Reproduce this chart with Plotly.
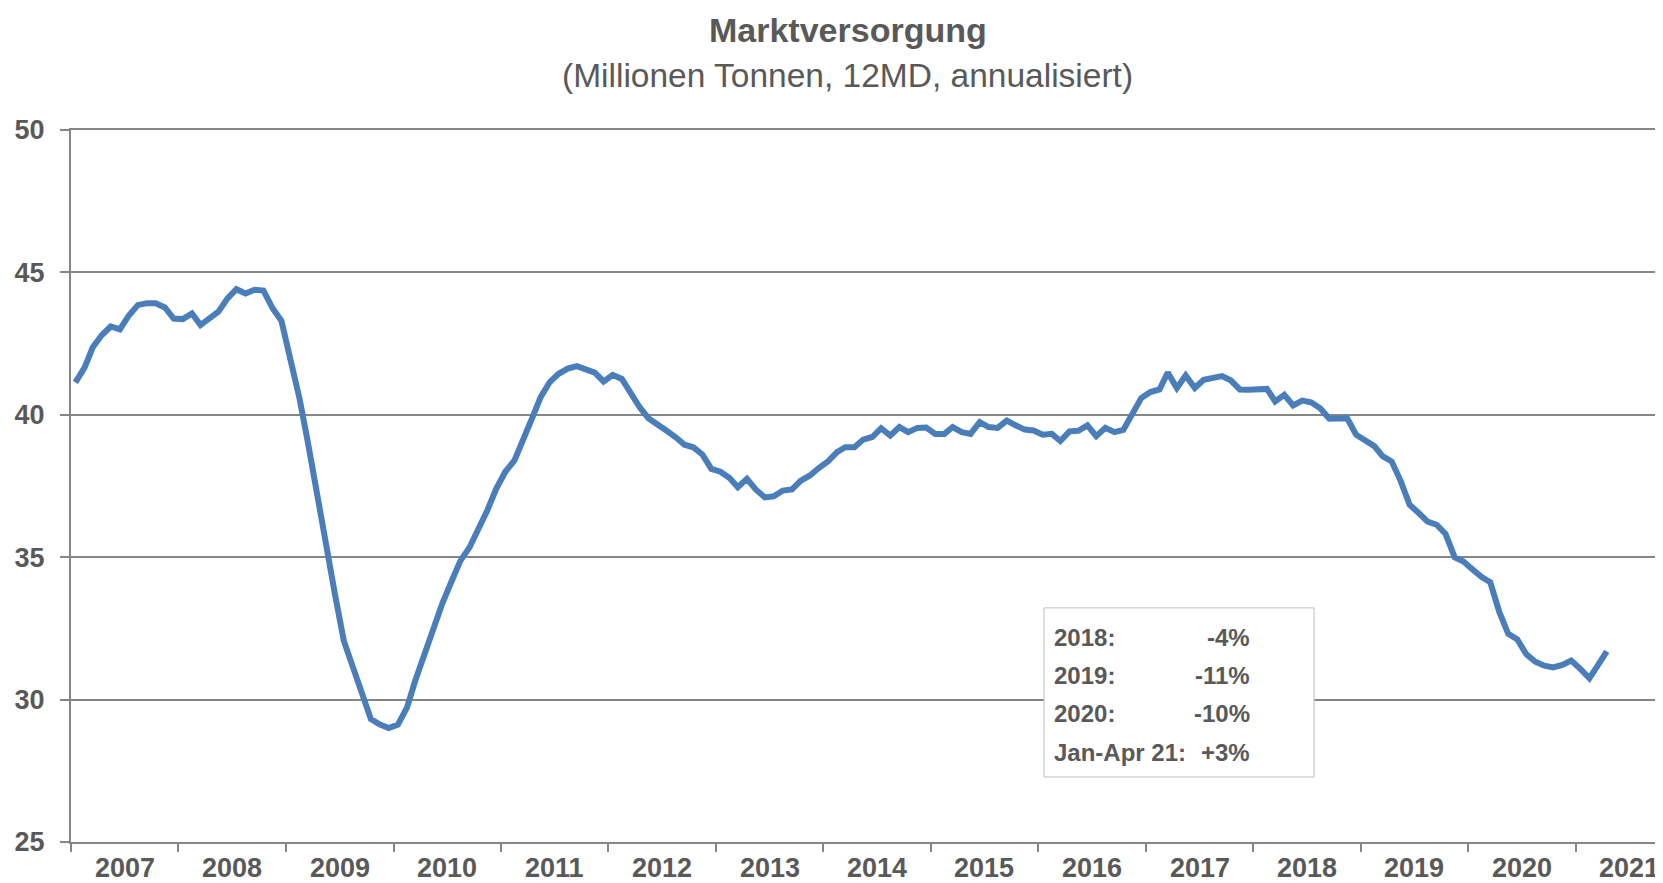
import pandas as pd
import plotly.graph_objects as go

# ---- data -------------------------------------------------------------
start_month = "2007-01-01"
values = [
    # 2007
    41.14, 41.66, 42.37, 42.80, 43.10, 43.00, 43.48, 43.85, 43.92, 43.92, 43.77, 43.38,
    # 2008
    43.36, 43.56, 43.15, 43.38, 43.62, 44.09, 44.41, 44.26, 44.39, 44.36, 43.74, 43.30,
    # 2009
    41.96, 40.55, 39.03, 37.10, 35.50, 33.70, 32.07, 31.14, 30.20, 29.32, 29.12, 29.00,
    # 2010
    29.12, 29.73, 30.67, 31.60, 32.54, 33.38, 34.12, 34.87, 35.34, 35.93, 36.65, 37.40,
    # 2011
    38.00, 38.40, 39.16, 39.86, 40.62, 41.15, 41.44, 41.62, 41.71, 41.62, 41.48, 41.17,
    # 2012
    41.40, 41.26, 40.74, 40.27, 39.88, 39.63, 39.45, 39.22, 38.95, 38.86, 38.60, 38.10,
    # 2013
    38.00, 37.78, 37.46, 37.75, 37.38, 37.10, 37.14, 37.34, 37.38, 37.69, 37.87, 38.13,
    # 2014
    38.36, 38.69, 38.86, 38.86, 39.13, 39.22, 39.53, 39.27, 39.57, 39.39, 39.54, 39.55,
    # 2015
    39.33, 39.33, 39.57, 39.39, 39.33, 39.74, 39.57, 39.54, 39.80, 39.63, 39.48, 39.45,
    # 2016
    39.30, 39.33, 39.08, 39.42, 39.44, 39.63, 39.25, 39.54, 39.39, 39.47, 40.04, 40.59,
    # 2017
    40.80, 40.89, 41.48, 40.94, 41.38, 40.94, 41.23, 41.32, 41.36, 41.21, 40.89, 40.88,
    # 2018
    40.88, 40.91, 40.47, 40.70, 40.33, 40.50, 40.44, 40.23, 39.86, 39.88, 39.88, 39.30,
    # 2019
    39.10, 38.90, 38.55, 38.36, 37.69, 36.84, 36.56, 36.25, 36.14, 35.82, 35.00, 34.85,
    # 2020
    34.57, 34.30, 34.12, 33.07, 32.31, 32.11, 31.60, 31.33, 31.19, 31.13, 31.22, 31.37,
    # 2021 (Jan-Apr)
    31.08, 30.75, 31.19, 31.69,
]
years = list(range(2007, 2022))
year_labels = [str(y) for y in years]
y_ticks = [25, 30, 35, 40, 45, 50]

box_labels = ["2018:", "2019:", "2020:", "Jan-Apr 21:"]
box_values = ["-4%", "-11%", "-10%", "+3%"]

title_text = "Marktversorgung"
subtitle_text = "(Millionen Tonnen, 12MD, annualisiert)"

# ---- derived -----------------------------------------------------------
months = pd.date_range(start=start_month, periods=len(values), freq="MS") + pd.Timedelta(days=15)
year_starts = [f"{y}-01-01" for y in years]
year_mids = [f"{y}-07-02" for y in years]

TEXT = "#595959"
GRID = "#868686"
LINE = "#4A7EBB"
SANS = "Liberation Sans, Arial, sans-serif"

fig = go.Figure()
fig.add_trace(go.Scatter(
    x=months, y=values, mode="lines",
    line=dict(color=LINE, width=6),
    hoverinfo="skip", showlegend=False,
))

# page body adds an 8px margin; size the figure to compensate
fig.update_layout(
    width=1655, height=875,
    margin=dict(l=63, r=0, t=122, b=41, autoexpand=False),
    paper_bgcolor="white", plot_bgcolor="white",
    showlegend=False,
)

fig.update_xaxes(
    type="date",
    range=["2007-01-01", "2021-10-24"],
    tickmode="array", tickvals=year_starts, ticktext=[""] * len(year_starts),
    ticks="outside", ticklen=8, tickwidth=2, tickcolor=GRID,
    showgrid=False, zeroline=False,
    showline=True, linecolor=GRID, linewidth=2, mirror=True,
)
fig.update_yaxes(
    range=[25, 50], tickmode="array", tickvals=y_ticks,
    showgrid=True, gridcolor=GRID, gridwidth=2, zeroline=False,
    showline=True, linecolor=GRID, linewidth=2,
    ticks="outside", ticklen=9, tickwidth=2, tickcolor=GRID,
    tickfont=dict(family=SANS, size=27, color=TEXT, weight="bold"),
    ticklabelstandoff=10,
)

# year labels centred in each year segment
for lab, xm in zip(year_labels, year_mids):
    fig.add_annotation(text=f"<b>{lab}</b>", xref="x", yref="paper",
                       x=xm, y=0, xanchor="center", yanchor="top", yshift=-9,
                       showarrow=False, font=dict(family=SANS, size=27, color=TEXT))

# titles
fig.add_annotation(text=f"<b>{title_text}</b>", xref="paper", yref="paper",
                   x=0.488, y=1.140, xanchor="center", yanchor="middle",
                   showarrow=False, font=dict(family=SANS, size=34, color=TEXT))
fig.add_annotation(text=subtitle_text, xref="paper", yref="paper",
                   x=0.488, y=1.0765, xanchor="center", yanchor="middle",
                   showarrow=False, font=dict(family=SANS, size=33.5, color=TEXT))

# info box
fig.add_shape(type="rect", xref="paper", yref="paper",
              x0=0.6112, x1=0.7808, y0=0.0913, y1=0.3288,
              line=dict(color="#BFBFBF", width=1), fillcolor="white", layer="above")
row_y = [0.2874, 0.2336, 0.1799, 0.1258]
for lab, val, yy in zip(box_labels, box_values, row_y):
    fig.add_annotation(text=f"<b>{lab}</b>", xref="paper", yref="paper",
                       x=0.6162, y=yy, xanchor="left", yanchor="middle",
                       showarrow=False, font=dict(family=SANS, size=24, color=TEXT))
    fig.add_annotation(text=f"<b>{val}</b>", xref="paper", yref="paper",
                       x=0.7418, y=yy, xanchor="right", yanchor="middle",
                       showarrow=False, font=dict(family=SANS, size=24, color=TEXT))

fig.write_html("out.html")
